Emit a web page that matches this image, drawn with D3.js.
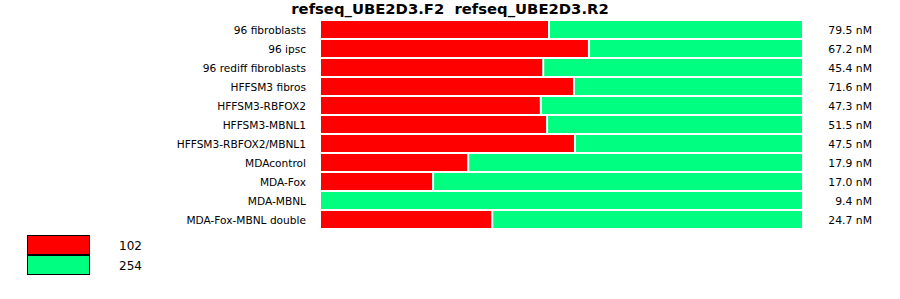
<!DOCTYPE html>
<html>
<head>
<meta charset="utf-8">
<script src="https://cdn.jsdelivr.net/npm/d3@7"></script>
<style>
  body { margin: 0; background: #fff; }
  svg { display: block; font-family: "DejaVu Sans", Verdana, sans-serif; }
</style>
</head>
<body>
<svg id="chart" width="900" height="299"></svg>
<script>
const title = 'refseq_UBE2D3.F2  refseq_UBE2D3.R2'
const samples = ['96 fibroblasts', '96 ipsc', '96 rediff fibroblasts', 'HFFSM3 fibros',
  'HFFSM3-RBFOX2', 'HFFSM3-MBNL1', 'HFFSM3-RBFOX2/MBNL1', 'MDAcontrol', 'MDA-Fox',
  'MDA-MBNL', 'MDA-Fox-MBNL double']
// share of the 102 product, percent
const share102 = [47.4, 55.7, 46.2, 52.6, 45.7, 47.0, 52.8, 30.6, 23.3, 0, 35.6]
const concentration = ['79.5 nM', '67.2 nM', '45.4 nM', '71.6 nM', '47.3 nM', '51.5 nM',
  '47.5 nM', '17.9 nM', '17.0 nM', '9.4 nM', '24.7 nM']
const products = ['102', '254']
const colors = ['#ff0000', '#00ff80']

const svg = d3.select('#chart')

const x = d3.scaleLinear().domain([0, 100]).range([321, 802])
const y = d3.scaleBand().domain(samples).range([21, 228]).paddingInner(2 / 19).paddingOuter(0)

svg.append('text')
  .attr('x', 450).attr('y', 14)
  .attr('text-anchor', 'middle')
  .style('font-size', '14.8px').style('font-weight', 'bold')
  .style('white-space', 'pre')
  .text(title)

const rows = svg.selectAll('g.row')
  .data(samples.map((s, i) => ({ name: s, v: share102[i], conc: concentration[i] })))
  .enter().append('g').classed('row', true)
  .attr('transform', d => `translate(0,${y(d.name)})`)

rows.filter(d => d.v > 0).append('rect')
  .attr('x', x(0))
  .attr('width', d => x(d.v) - 1 - x(0))
  .attr('height', y.bandwidth())
  .attr('fill', colors[0])

rows.append('rect')
  .attr('x', d => d.v > 0 ? x(d.v) + 1 : x(0))
  .attr('width', d => x(100) - (d.v > 0 ? x(d.v) + 1 : x(0)))
  .attr('height', y.bandwidth())
  .attr('fill', colors[1])

rows.append('text')
  .attr('x', 306).attr('y', y.bandwidth() / 2)
  .attr('dy', '0.38em')
  .attr('text-anchor', 'end')
  .style('font-size', '10.6px')
  .text(d => d.name)

rows.append('text')
  .attr('x', 872).attr('y', y.bandwidth() / 2)
  .attr('dy', '0.38em')
  .attr('text-anchor', 'end')
  .style('font-size', '10.8px')
  .text(d => d.conc)

// legend
const legend = svg.selectAll('g.legend')
  .data(products)
  .enter().append('g').classed('legend', true)
  .attr('transform', (d, i) => `translate(27.5,${235.5 + i * 20})`)

legend.append('rect')
  .attr('width', 62).attr('height', 19)
  .attr('fill', (d, i) => colors[i])
  .attr('stroke', '#000').attr('stroke-width', 1)

legend.append('text')
  .attr('x', 91.5).attr('y', 10)
  .attr('dy', '0.35em')
  .style('font-size', '12px')
  .text(d => d)
</script>
</body>
</html>
